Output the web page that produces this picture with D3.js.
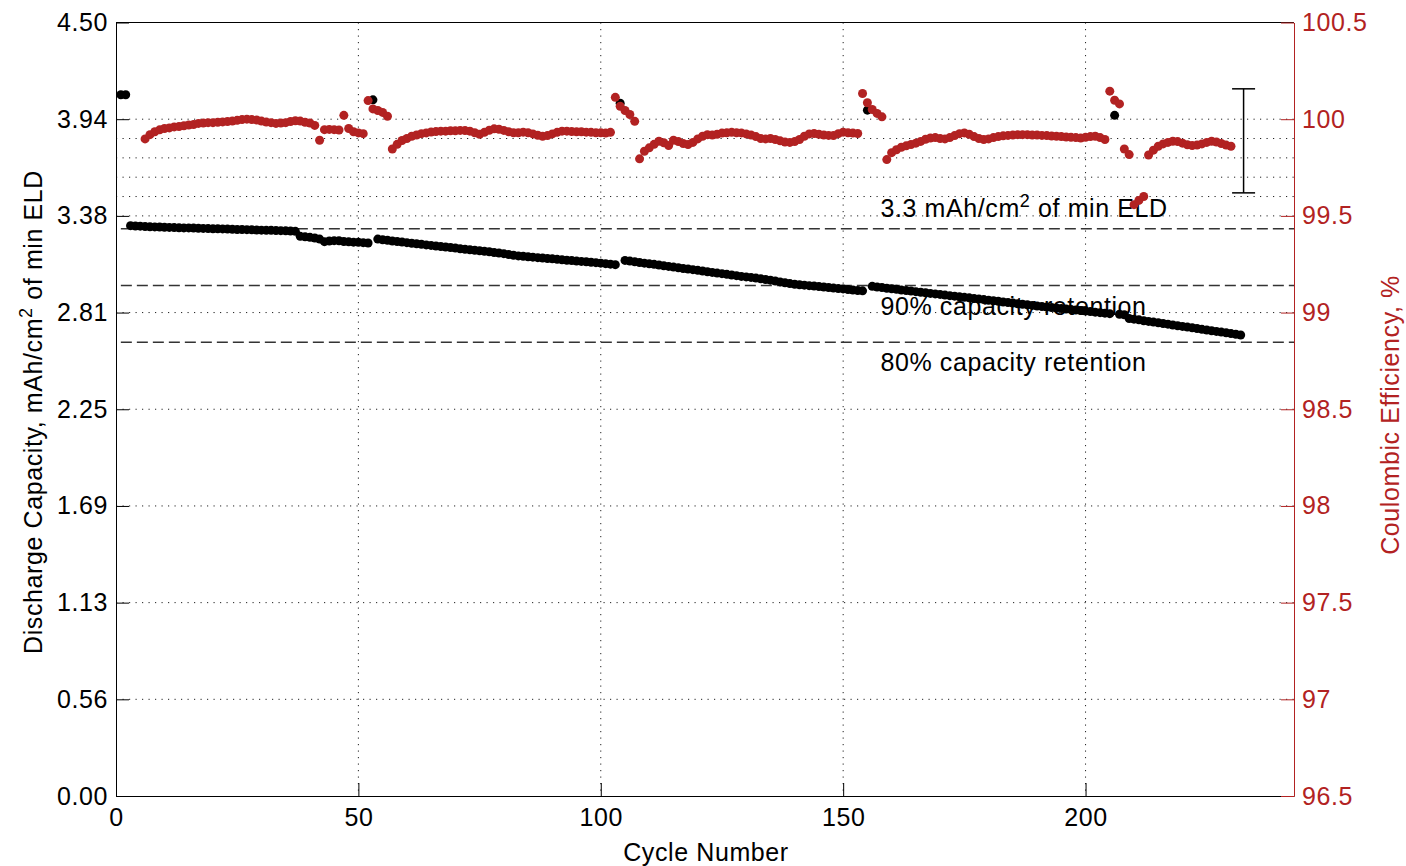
<!DOCTYPE html>
<html>
<head>
<meta charset="utf-8">
<style>
body { margin:0; background:#fff; }
svg text { font-family: "Liberation Sans", Arial, sans-serif; letter-spacing: 0.6px; }
</style>
</head>
<body>
<div id="chart"></div>
<script src="https://d3js.org/d3.v7.min.js"></script>
<script>

// ---- data ----
// discharge capacity (mAh/cm2), one run per block between rest stops
var capStartA = 3;
var capA = [3.318,3.316,3.315,3.313,3.312,3.311,3.310,3.309,3.308,3.307,
            3.306,3.305,3.305,3.304,3.303,3.302,3.301,3.300,3.300,3.299,
            3.298,3.297,3.296,3.296,3.295,3.294,3.293,3.292,3.291,3.291,
            3.290,3.289,3.288,3.287,3.285,
            3.256,3.253,3.250,3.246,3.240,3.225,3.229,3.231,3.230,3.226,
            3.224,3.222,3.221,3.219,3.217];
var capStartB = 54;
var capB = [3.240,3.236,3.233,3.229,3.226,3.223,3.219,3.216,3.213,3.210,
            3.206,3.203,3.200,3.197,3.194,3.191,3.188,3.184,3.181,3.178,
            3.175,3.172,3.169,3.166,3.162,3.159,3.155,3.150,3.146,3.142,
            3.140,3.137,3.135,3.132,3.130,3.127,3.125,3.122,3.120,3.117,
            3.115,3.112,3.110,3.108,3.105,3.103,3.100,3.097,3.094,3.091];
var capStartC = 105;
var capC = [3.116,3.112,3.108,3.104,3.100,3.096,3.093,3.089,3.085,3.081,
            3.077,3.073,3.069,3.066,3.062,3.058,3.054,3.050,3.046,3.042,
            3.039,3.035,3.031,3.027,3.023,3.020,3.017,3.013,3.009,3.005,
            3.001,2.996,2.991,2.986,2.981,2.977,2.974,2.972,2.969,2.967,
            2.964,2.961,2.958,2.955,2.952,2.950,2.947,2.944,2.941,2.939];
var capStartD = 156;
var capD = [2.965,2.961,2.958,2.954,2.951,2.948,2.944,2.941,2.938,2.934,
            2.931,2.928,2.924,2.921,2.918,2.914,2.911,2.908,2.904,2.901,
            2.898,2.894,2.891,2.888,2.884,2.881,2.878,2.874,2.871,2.868,
            2.864,2.861,2.858,2.854,2.851,2.848,2.845,2.842,2.839,2.836,
            2.833,2.830,2.827,2.824,2.821,2.818,2.815,2.812,2.809,2.806];
var capStartE = 207;
var capE = [2.803,2.800,2.778,2.774,2.770,2.765,2.761,2.757,2.753,2.749,
            2.745,2.740,2.736,2.732,2.728,2.724,2.720,2.715,2.711,2.707,
            2.703,2.699,2.695,2.690,2.686,2.682];

// first cycles and cycles right after a rest
var restCycles = [1, 2, 53, 104, 155, 206];
var restCap    = [4.08, 4.08, 4.05, 4.03, 3.99, 3.96];

// coulombic efficiency (%)
var ceStartA = 6;
var ceA = [99.898,99.920,99.935,99.945,99.952,99.955,99.960,99.962,99.966,99.970,
           99.972,99.978,99.980,99.982,99.982,99.984,99.986,99.988,99.990,99.994,
           99.998,100.000,99.998,99.996,99.990,99.985,99.982,99.978,99.980,99.982,
           99.988,99.992,99.990,99.984,99.980,99.968,99.891,99.946,99.947,99.946,
           99.944,100.020,99.952,99.935,99.929,99.925];
var ceStartB = 52;
var ceB = [100.096,100.053,100.045,100.035,100.015,
           99.846,99.870,99.890,99.900,99.912,99.918,99.925,99.929,99.934,99.936,
           99.938,99.938,99.940,99.940,99.942,99.941,99.938,99.930,99.922,99.932,
           99.943,99.950,99.948,99.942,99.935,99.930,99.930,99.933,99.930,99.924,
           99.917,99.912,99.915,99.924,99.932,99.938,99.938,99.936,99.935,99.935,
           99.933,99.932,99.930,99.930,99.928,99.932];
var ceStartC = 103;
var ceC = [100.113,100.067,100.045,100.024,99.989,
           99.795,99.834,99.852,99.870,99.886,99.878,99.864,99.891,99.884,99.874,
           99.869,99.880,99.898,99.912,99.920,99.918,99.922,99.928,99.930,99.932,
           99.930,99.929,99.924,99.918,99.910,99.900,99.898,99.900,99.895,99.888,
           99.882,99.880,99.884,99.895,99.912,99.924,99.926,99.922,99.918,99.916,
           99.915,99.925,99.933,99.930,99.928,99.926];
var ceStartD = 154;
var ceD = [100.133,100.085,100.050,100.030,100.012,
           99.791,99.827,99.842,99.855,99.862,99.869,99.876,99.885,99.896,99.903,
           99.905,99.900,99.898,99.905,99.915,99.925,99.929,99.922,99.910,99.900,
           99.895,99.898,99.905,99.910,99.914,99.916,99.918,99.920,99.920,99.920,
           99.918,99.918,99.916,99.915,99.913,99.912,99.910,99.908,99.906,99.905,
           99.903,99.906,99.910,99.912,99.905,99.895];
var ceStartE = 205;
var ceE = [100.145,100.098,100.079,99.846,99.817,99.558,99.580,99.600,
           99.815,99.840,99.860,99.872,99.880,99.886,99.884,99.876,99.868,99.864,
           99.866,99.872,99.880,99.886,99.882,99.874,99.866,99.860];

// error bar on CE
var errCycle = 232.6, errMean = 99.888, errHalf = 0.269;

// reference lines
var refCap = [3.3, 2.97, 2.64];

// ticks
var xTicks = [0, 50, 100, 150, 200];
var capTicks = [0, 0.5625, 1.125, 1.6875, 2.25, 2.8125, 3.375, 3.9375, 4.5];
var capTickLabels = ["0.00","0.56","1.13","1.69","2.25","2.81","3.38","3.94","4.50"];
var ceTicks = [96.5, 97, 97.5, 98, 98.5, 99, 99.5, 100, 100.5];
var ceTickLabels = ["96.5","97","97.5","98","98.5","99","99.5","100","100.5"];
var ceMinorGrid = [99.6, 99.7, 99.8, 99.9];

// ---- chart ----
var red = "#b22222";
var margin = {top: 22.5, right: 112, bottom: 70, left: 116},
    width = 1406 - margin.left - margin.right,
    height = 866 - margin.top - margin.bottom;

var svg = d3.select("#chart").append("svg")
    .attr("width", 1406)
    .attr("height", 866);

var g = svg.append("g")
    .attr("transform", "translate(" + margin.left + "," + margin.top + ")");

var x = d3.scaleLinear().domain([0, 243]).range([0, width]);
var yCap = d3.scaleLinear().domain([0, 4.5]).range([height, 0]);
var yCe = d3.scaleLinear().domain([96.5, 100.5]).range([height, 0]);

function run(start, vals) {
  return vals.map(function(v, i) { return {c: start + i, v: v}; });
}
var capData = [].concat(run(capStartA, capA), run(capStartB, capB), run(capStartC, capC),
                        run(capStartD, capD), run(capStartE, capE));
var restData = restCycles.map(function(c, i) { return {c: c, v: restCap[i]}; });
var ceData = [].concat(run(ceStartA, ceA), run(ceStartB, ceB), run(ceStartC, ceC),
                       run(ceStartD, ceD), run(ceStartE, ceE));

// grid
var grid = g.append("g").attr("stroke", "#222").attr("stroke-width", 1)
    .attr("stroke-dasharray", "1.2,5.3");
grid.selectAll(".vg").data(xTicks.slice(1)).enter().append("line")
    .attr("x1", function(d) { return x(d); }).attr("x2", function(d) { return x(d); })
    .attr("y1", 0).attr("y2", height);
grid.selectAll(".hg").data(capTicks.slice(1, -1)).enter().append("line")
    .attr("x1", 0).attr("x2", width)
    .attr("y1", function(d) { return yCap(d); }).attr("y2", function(d) { return yCap(d); });
grid.selectAll(".mg").data(ceMinorGrid).enter().append("line")
    .attr("x1", 0).attr("x2", width)
    .attr("y1", function(d) { return yCe(d); }).attr("y2", function(d) { return yCe(d); });

// reference dashed lines
g.selectAll(".ref").data(refCap).enter().append("line")
    .attr("x1", x(1)).attr("x2", width)
    .attr("y1", function(d) { return yCap(d); }).attr("y2", function(d) { return yCap(d); })
    .attr("stroke", "#333").attr("stroke-width", 1.4)
    .attr("stroke-dasharray", "11,5");

// annotations
var t1 = g.append("text")
    .attr("x", x(157.7)).attr("y", yCap(3.42)).attr("dy", "0.35em")
    .attr("font-size", "25px");
t1.append("tspan").text("3.3 mAh/cm");
t1.append("tspan").attr("dy", "-10").attr("font-size", "18px").text("2");
t1.append("tspan").attr("dy", "10").text(" of min ELD");

g.append("text")
    .attr("x", x(157.7)).attr("y", yCap(2.85)).attr("dy", "0.35em")
    .attr("font-size", "25px")
    .text("90% capacity retention");
g.append("text")
    .attr("x", x(157.7)).attr("y", yCap(2.525)).attr("dy", "0.35em")
    .attr("font-size", "25px")
    .text("80% capacity retention");

// capacity dots
g.selectAll(".cap").data(capData.concat(restData)).enter().append("circle")
    .attr("cx", function(d) { return x(d.c); })
    .attr("cy", function(d) { return yCap(d.v); })
    .attr("r", 4.5)
    .attr("fill", "#000");

// CE dots
g.selectAll(".ce").data(ceData).enter().append("circle")
    .attr("cx", function(d) { return x(d.c); })
    .attr("cy", function(d) { return yCe(d.v); })
    .attr("r", 4.5)
    .attr("fill", red);

// error bar
var eb = g.append("g").attr("stroke", "#000").attr("stroke-width", 1.5);
eb.append("line")
    .attr("x1", x(errCycle)).attr("x2", x(errCycle))
    .attr("y1", yCe(errMean + errHalf)).attr("y2", yCe(errMean - errHalf));
eb.selectAll(".cap").data([errMean + errHalf, errMean - errHalf]).enter().append("line")
    .attr("x1", x(errCycle) - 11.5).attr("x2", x(errCycle) + 11.5)
    .attr("y1", function(d) { return yCe(d); }).attr("y2", function(d) { return yCe(d); });

// axes frame
g.append("line").attr("x1", 0).attr("x2", width).attr("y1", 0).attr("y2", 0)
    .attr("stroke", "#000").attr("stroke-width", 1);

var xAxis = g.append("g")
    .attr("transform", "translate(0," + height + ")")
    .call(d3.axisBottom(x).tickValues(xTicks).tickSize(-13).tickPadding(21).tickSizeOuter(0));
xAxis.selectAll("text").attr("font-size", "25px").attr("fill", "#000").attr("dy", "0.35em");

var yAxisL = g.append("g")
    .call(d3.axisLeft(yCap).tickValues(capTicks).tickSize(-13).tickPadding(8).tickSizeOuter(0)
      .tickFormat(function(d, i) { return capTickLabels[i]; }));
yAxisL.selectAll("text").attr("font-size", "25px").attr("fill", "#000");

var yAxisR = g.append("g")
    .attr("transform", "translate(" + width + ",0)")
    .call(d3.axisRight(yCe).tickValues(ceTicks).tickSize(-13).tickPadding(8).tickSizeOuter(0)
      .tickFormat(function(d, i) { return ceTickLabels[i]; }));
yAxisR.select(".domain").attr("stroke", red);
yAxisR.selectAll("line").attr("stroke", red);
yAxisR.selectAll("text").attr("font-size", "25px").attr("fill", red);

[xAxis, yAxisL, yAxisR].forEach(function(a) { a.attr("font-family", null); });

// axis titles
g.append("text")
    .attr("x", width / 2 + 1).attr("y", height + 56).attr("dy", "0.35em")
    .attr("text-anchor", "middle").attr("font-size", "25px")
    .text("Cycle Number");

var lt = g.append("text")
    .attr("transform", "translate(" + (33 - margin.left) + "," + (412 - margin.top) + ") rotate(-90)")
    .attr("text-anchor", "middle").attr("dy", "0.35em").attr("font-size", "25px");
lt.append("tspan").text("Discharge Capacity, mAh/cm");
lt.append("tspan").attr("dy", "-10").attr("font-size", "18px").text("2");
lt.append("tspan").attr("dy", "10").text(" of min ELD");

g.append("text")
    .attr("transform", "translate(" + (1390 - margin.left) + "," + (415 - margin.top) + ") rotate(-90)")
    .attr("text-anchor", "middle").attr("dy", "0.35em").attr("font-size", "25px")
    .attr("fill", red)
    .text("Coulombic Efficiency, %");

</script>
</body>
</html>
